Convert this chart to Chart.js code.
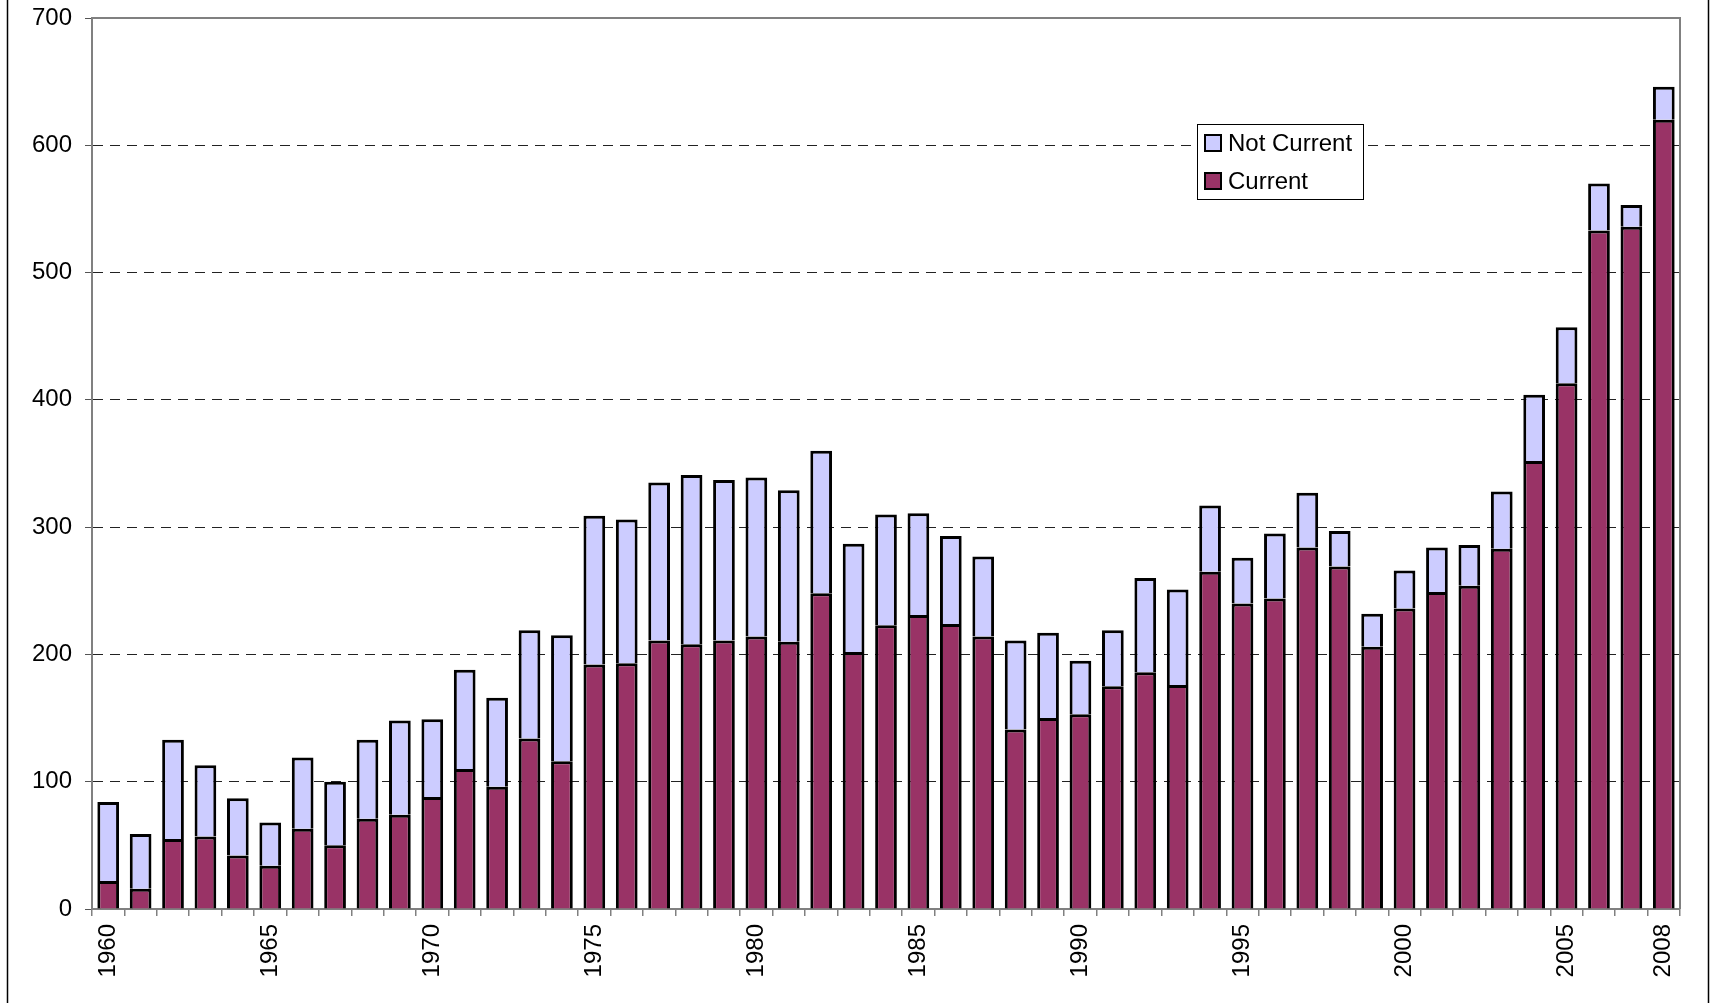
<!DOCTYPE html>
<html>
<head>
<meta charset="utf-8">
<title>Current / Not Current by year</title>
<script src="https://cdn.jsdelivr.net/npm/chart.js@4.4.0/dist/chart.umd.min.js"></script>
<style>
  html, body { margin: 0; padding: 0; background: #fff; }
  canvas { display: block; }
</style>
</head>
<body>
<canvas id="chart" width="1712" height="1003"></canvas>
<script>
// Years on the x axis
const years = [
  "1960", "1961", "1962", "1963", "1964", "1965", "1966", "1967", "1968", "1969",
  "1970", "1971", "1972", "1973", "1974", "1975", "1976", "1977", "1978", "1979",
  "1980", "1981", "1982", "1983", "1984", "1985", "1986", "1987", "1988", "1989",
  "1990", "1991", "1992", "1993", "1994", "1995", "1996", "1997", "1998", "1999",
  "2000", "2001", "2002", "2003", "2004", "2005", "2006", "2007", "2008"
];

// Only these year labels are printed under the axis
const shownYearLabels = ["1960", "1965", "1970", "1975", "1980", "1985", "1990", "1995", "2000", "2005", "2008"];

// Bottom segment of each bar
const current = [
  22, 16, 55, 57, 42, 34, 63, 50, 71, 74,
  88, 110, 96, 134, 116, 192, 193, 211, 208, 211,
  214, 210, 248, 202, 223, 231, 224, 214, 141, 150,
  153, 175, 186, 176, 265, 240, 244, 284, 269, 206,
  236, 249, 254, 283, 352, 413, 533, 536, 620
];

// Top segment of each bar
const notCurrent = [
  62, 43, 78, 56, 45, 34, 56, 50, 62, 74,
  61, 78, 70, 85, 99, 117, 113, 124, 133, 126,
  125, 119, 112, 85, 87, 80, 69, 63, 70, 67,
  42, 44, 74, 75, 52, 36, 51, 43, 28, 26,
  30, 35, 32, 45, 52, 44, 37, 17, 26
];

const yTicks = [0, 100, 200, 300, 400, 500, 600, 700];

const FONT = "'Liberation Sans', Arial, sans-serif";

// frame around the plot area plus the outer chart border
const framePlugin = {
  id: "frame",
  afterDraw(chart) {
    const { ctx, chartArea: a } = chart;
    ctx.save();
    ctx.strokeStyle = "#808080";
    ctx.lineWidth = 2;
    ctx.beginPath();
    ctx.moveTo(a.left, a.top);
    ctx.lineTo(a.right, a.top);
    ctx.lineTo(a.right, a.bottom);
    ctx.stroke();

    ctx.strokeStyle = "#000";
    ctx.lineWidth = 1.5;
    ctx.beginPath();
    ctx.moveTo(7.5, 0);
    ctx.lineTo(7.5, chart.height);
    ctx.moveTo(1708.5, 0);
    ctx.lineTo(1708.5, chart.height);
    ctx.stroke();
    ctx.restore();
  }
};

// boxed legend inside the plot, Not Current on top
const boxLegend = {
  id: "boxLegend",
  afterDraw(chart) {
    const ctx = chart.ctx;
    const x = 1197, y = 124, w = 166, h = 75;
    ctx.save();
    ctx.fillStyle = "#fff";
    ctx.fillRect(x, y, w, h);
    ctx.strokeStyle = "#000";
    ctx.lineWidth = 1;
    ctx.strokeRect(x + 0.5, y + 0.5, w, h);

    const items = chart.data.datasets.slice().reverse();
    ctx.font = "24px " + FONT;
    ctx.textBaseline = "middle";
    items.forEach((ds, i) => {
      const cy = y + 19 + i * 38;
      ctx.fillStyle = ds.backgroundColor;
      ctx.fillRect(x + 8, cy - 8, 16, 16);
      ctx.strokeStyle = "#000";
      ctx.lineWidth = 2;
      ctx.strokeRect(x + 8, cy - 8, 16, 16);
      ctx.fillStyle = "#000";
      ctx.fillText(ds.label, x + 31, cy + 1);
    });
    ctx.restore();
  }
};

const ctx = document.getElementById("chart").getContext("2d");

new Chart(ctx, {
  type: "bar",
  data: {
    labels: years,
    datasets: [
      {
        label: "Current",
        data: current,
        backgroundColor: "#993366",
        borderColor: "#000",
        borderWidth: 3,
        stack: "s"
      },
      {
        label: "Not Current",
        data: notCurrent,
        backgroundColor: "#CCCCFF",
        borderColor: "#000",
        borderWidth: 3,
        stack: "s"
      }
    ]
  },
  options: {
    responsive: false,
    animation: false,
    devicePixelRatio: 1,
    layout: { padding: { left: 0, top: 18, right: 32, bottom: 0 } },
    datasets: {
      bar: { categoryPercentage: 1.0, barPercentage: 0.67 }
    },
    plugins: {
      legend: { display: false },
      tooltip: { enabled: false }
    },
    scales: {
      x: {
        stacked: true,
        afterFit(scale) {
          scale.height = 94;
          scale.paddingLeft = 0;
          scale.paddingRight = 0;
        },
        grid: {
          offset: true,
          drawOnChartArea: false,
          color: "#808080",
          tickLength: 7,
          lineWidth: 1.5
        },
        border: { color: "#808080", width: 2 },
        ticks: {
          autoSkip: false,
          minRotation: 90,
          maxRotation: 90,
          padding: 8,
          color: "#000",
          font: { family: FONT, size: 24 },
          callback: function (value) {
            const label = this.getLabelForValue(value);
            return shownYearLabels.includes(label) ? label : "";
          }
        }
      },
      y: {
        stacked: true,
        min: yTicks[0],
        max: yTicks[yTicks.length - 1],
        afterFit(scale) {
          scale.width = 92;
          scale.paddingTop = 0;
          scale.paddingBottom = 0;
        },
        afterBuildTicks(scale) { scale.ticks = yTicks.map(v => ({ value: v })); },
        grid: {
          color: (c) => (c.tick && (c.tick.value === 0 || c.tick.value === 700)) ? "rgba(0,0,0,0)" : "#222",
          lineWidth: 1,
          tickColor: "#555",
          tickLength: 7,
          tickBorderDash: []
        },
        border: { color: "#808080", width: 2, dash: [10, 7] },
        ticks: {
          padding: 13,
          color: "#000",
          font: { family: FONT, size: 24 }
        }
      }
    }
  },
  plugins: [framePlugin, boxLegend]
});
</script>
</body>
</html>
